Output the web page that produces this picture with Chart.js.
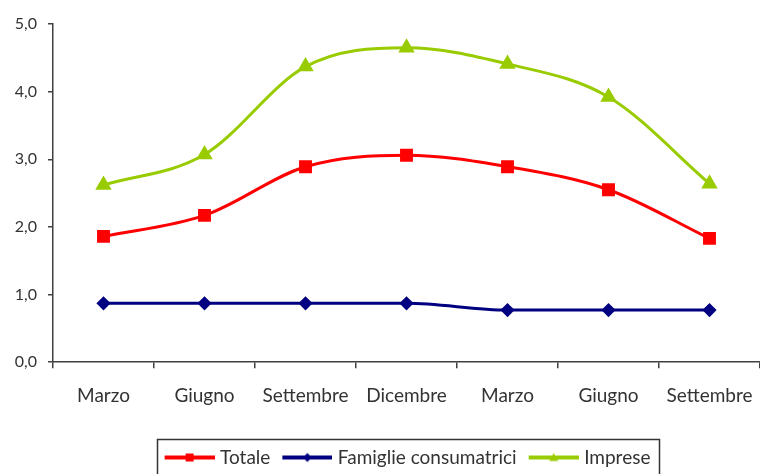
<!DOCTYPE html>
<html>
<head>
<meta charset="utf-8">
<script src="https://cdn.jsdelivr.net/npm/chart.js@4/dist/chart.umd.min.js"></script>
<style>
  html, body { margin: 0; padding: 0; background: #fff; overflow: hidden; }
  canvas { display: block; }
</style>
</head>
<body>
<canvas id="chart" width="760" height="474"></canvas>
<script>
// Categories (quarters, two consecutive years)
var categories = ["Marzo", "Giugno", "Settembre", "Dicembre", "Marzo", "Giugno", "Settembre"];

// Series values
var totale = [1.86, 2.17, 2.89, 3.06, 2.89, 2.55, 1.83];
var famiglie = [0.87, 0.87, 0.87, 0.87, 0.77, 0.77, 0.77];
var imprese = [2.62, 3.07, 4.37, 4.65, 4.41, 3.92, 2.64];

var y_ticks = [0, 1, 2, 3, 4, 5];

var font_family = "Lato, 'Open Sans', sans-serif";
var text_color = "#333333";
var axis_color = "#404040";

// Legend symbol: thick line with the marker in the middle.
// The canvas is wider than the legend box so the line ends close to the text.
function make_legend_symbol (color, shape) {
    var c = document.createElement("canvas");
    c.width = 56;
    c.height = 12;

    var ctx = c.getContext("2d");
    var mid = 31;

    ctx.strokeStyle = color;
    ctx.fillStyle = color;
    ctx.lineWidth = 4;
    ctx.beginPath();
    ctx.moveTo(6, 6);
    ctx.lineTo(56, 6);
    ctx.stroke();

    ctx.beginPath();

    if (shape === "rect") {
        ctx.rect(mid - 4, 2, 8, 8);
    } else if (shape === "diamond") {
        ctx.moveTo(mid, 1.5);
        ctx.lineTo(mid + 4.5, 6);
        ctx.lineTo(mid, 10.5);
        ctx.lineTo(mid - 4.5, 6);
    } else {
        ctx.moveTo(mid, 1.5);
        ctx.lineTo(mid + 4.5, 9.5);
        ctx.lineTo(mid - 4.5, 9.5);
    }

    ctx.closePath();
    ctx.fill();

    return c;
}

// Draw a frame around the legend items
var legend_frame = {
    id: "legend_frame",
    afterDraw: function (chart) {
        var legend = chart.legend;

        if (!legend || !legend.legendHitBoxes || !legend.legendHitBoxes.length) {
            return;
        }

        var boxes = legend.legendHitBoxes;
        var min_x = Infinity;
        var max_x = -Infinity;

        for (var i in boxes) {
            min_x = Math.min(min_x, boxes[i].left);
            max_x = Math.max(max_x, boxes[i].left + boxes[i].width);
        }

        var top = boxes[0].top - 9;
        var ctx = chart.ctx;

        ctx.save();
        ctx.strokeStyle = "#333333";
        ctx.lineWidth = 1.5;
        ctx.strokeRect(Math.round(min_x - 6) + 0.5, Math.round(top) + 0.5, Math.round(max_x - min_x + 14), 60);
        ctx.restore();
    }
};

var config = {
    type: "line",
    data: {
        labels: categories,
        datasets: [
            {
                label: "Totale",
                data: totale,
                borderColor: "#ff0000",
                backgroundColor: "#ff0000",
                borderWidth: 3,
                pointStyle: "rect",
                pointRadius: 7,
                pointHoverRadius: 7,
                cubicInterpolationMode: "monotone"
            },
            {
                label: "Famiglie consumatrici",
                data: famiglie,
                borderColor: "#000080",
                backgroundColor: "#000080",
                borderWidth: 3,
                pointStyle: "rectRot",
                pointRadius: 5,
                pointHoverRadius: 5,
                cubicInterpolationMode: "monotone"
            },
            {
                label: "Imprese",
                data: imprese,
                borderColor: "#99cc00",
                backgroundColor: "#99cc00",
                borderWidth: 3,
                pointStyle: "triangle",
                pointRadius: 6.5,
                pointHoverRadius: 6.5,
                cubicInterpolationMode: "monotone"
            }
        ]
    },
    options: {
        responsive: false,
        animation: false,
        layout: {
            autoPadding: false,
            padding: {top: 24, left: 0, right: 0, bottom: -3}
        },
        scales: {
            x: {
                offset: true,
                grid: {
                    offset: true,
                    drawOnChartArea: false,
                    drawTicks: true,
                    tickLength: 6,
                    color: axis_color,
                    lineWidth: 1.5
                },
                border: {
                    color: axis_color,
                    width: 1.5
                },
                ticks: {
                    color: text_color,
                    padding: 16,
                    maxRotation: 0,
                    autoSkip: false,
                    font: {family: font_family, size: 19}
                },
                afterFit: function (scale) {
                    scale.height += 15;
                    scale.paddingLeft = 0;
                    scale.paddingRight = 0;
                }
            },
            y: {
                min: 0,
                max: 5,
                afterBuildTicks: function (scale) {
                    scale.ticks = y_ticks.map(function (v) { return {value: v}; });
                },
                grid: {
                    drawOnChartArea: false,
                    drawTicks: true,
                    tickLength: 5,
                    color: axis_color,
                    lineWidth: 1.5
                },
                border: {
                    color: axis_color,
                    width: 1.5
                },
                ticks: {
                    color: text_color,
                    padding: 11,
                    font: {family: font_family, size: 16},
                    callback: function (value) {
                        return value.toFixed(1).replace(".", ",");
                    }
                },
                afterFit: function (scale) {
                    scale.width = 53;
                }
            }
        },
        plugins: {
            legend: {
                display: true,
                position: "bottom",
                fullSize: false,
                labels: {
                    usePointStyle: true,
                    pointStyleWidth: 48,
                    color: text_color,
                    padding: 10,
                    font: {family: font_family, size: 19},
                    generateLabels: function (chart) {
                        var shapes = ["rect", "diamond", "triangle"];

                        return chart.data.datasets.map(function (ds, i) {
                            return {
                                text: ds.label,
                                datasetIndex: i,
                                fontColor: text_color,
                                pointStyle: make_legend_symbol(ds.borderColor, shapes[i]),
                                lineWidth: 0,
                                strokeStyle: "transparent",
                                fillStyle: ds.borderColor
                            };
                        });
                    }
                }
            },
            tooltip: {enabled: false},
            title: {display: false}
        }
    },
    plugins: [legend_frame]
};

new Chart(document.getElementById("chart").getContext("2d"), config);
</script>
</body>
</html>
